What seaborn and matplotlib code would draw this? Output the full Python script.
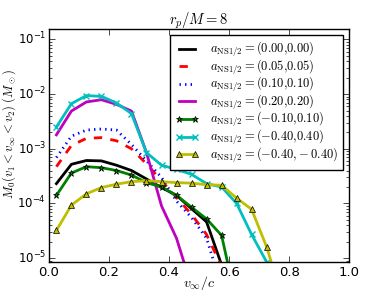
import numpy as np
import pandas as pd
import matplotlib
matplotlib.use("Agg")
import matplotlib.pyplot as plt
import seaborn as sns

plt.style.use("classic")
plt.rcParams.update({
    "figure.facecolor": "white",
    "savefig.facecolor": "white",
    "font.size": 10,
    "mathtext.fontset": "cm",
    "font.family": ["DejaVu Sans"],
})

v_inf = [0.025, 0.075, 0.125, 0.175, 0.225, 0.275, 0.325, 0.375,
         0.425, 0.475, 0.525, 0.575, 0.625, 0.675, 0.725, 0.775]

m_000_000 = [2.3e-4, 5.2e-4, 6.1e-4, 6.0e-4, 5.0e-4, 4.0e-4, 2.8e-4, 1.95e-4,
             1.4e-4, 8.0e-5, 4.6e-5, 7.5e-6]
m_005_005 = [4.7e-4, 1.15e-3, 1.55e-3, 1.6e-3, 1.4e-3, 1.0e-3, 5.3e-4, 2.6e-4,
             1.28e-4, 6.3e-5, 2.7e-5, 7.0e-6]
m_010_010 = [6.9e-4, 1.7e-3, 2.2e-3, 2.3e-3, 2.2e-3, 1.2e-3, 6.0e-4, 3.0e-4,
             1.1e-4, 5.5e-5, 2.3e-5, 3.0e-6]
m_020_020 = [1.8e-3, 4.9e-3, 7.2e-3, 7.9e-3, 6.5e-3, 4.9e-3, 8.5e-4, 9.0e-5,
             2.3e-5, 3.0e-6]
m_m010_010 = [1.4e-4, 3.6e-4, 4.7e-4, 4.5e-4, 4.0e-4, 3.3e-4, 2.4e-4, 2.0e-4,
              1.4e-4, 8.5e-5, 5.2e-5, 2.6e-5, 1.5e-6]
m_m040_040 = [2.5e-3, 6.7e-3, 9.4e-3, 9.1e-3, 6.9e-3, 4.4e-3, 8.5e-4, 5.0e-4,
              4.2e-4, 3.4e-4, 2.3e-4, 2.0e-4, 1.0e-4, 2.7e-5, 8.5e-6, 1.0e-6]
m_m040_m040 = [3.2e-5, 9.3e-5, 1.5e-4, 1.95e-4, 2.25e-4, 2.5e-4, 2.6e-4, 2.5e-4,
               2.4e-4, 2.35e-4, 2.2e-4, 2.15e-4, 1.25e-4, 7.8e-5, 1.6e-5, 2.0e-6]

labels = [
    r"$a_{\rm NS1/2}=(0.00{,}0.00)$",
    r"$a_{\rm NS1/2}=(0.05{,}0.05)$",
    r"$a_{\rm NS1/2}=(0.10{,}0.10)$",
    r"$a_{\rm NS1/2}=(0.20{,}0.20)$",
    r"$a_{\rm NS1/2}=(-0.10{,}0.10)$",
    r"$a_{\rm NS1/2}=(-0.40{,}0.40)$",
    r"$a_{\rm NS1/2}=(-0.40{,}-0.40)$",
]
series = [m_000_000, m_005_005, m_010_010, m_020_020, m_m010_010, m_m040_040, m_m040_m040]

colors = ["k", "r", "b", "m", "g", "c", "y"]
styles = ["-", "--", ":", "-", "-", "-", "-"]
markers = [None, None, None, None, "*", "x", "^"]

fig, ax = plt.subplots(figsize=(3.88, 2.91), dpi=100)
fig.subplots_adjust(left=0.126, right=0.9, bottom=0.1, top=0.9)

for vals, lab, c, ls, mk in zip(series, labels, colors, styles, markers):
    df = pd.DataFrame({"v": v_inf[:len(vals)], "m": vals})
    kw = dict(color=c, linestyle=ls, lw=2, label=lab)
    if mk is not None:
        kw.update(marker=mk, ms=5 if mk != "x" else 4,
                  mec=("k" if mk != "x" else c), mew=0.5 if mk != "x" else 1)
    sns.lineplot(data=df, x="v", y="m", ax=ax, estimator=None, sort=False, **kw)

ax.set_yscale("log")
ax.set_xlim(0, 1)
ax.set_ylim(8.5e-6, 0.155)
ax.set_xticks([0.0, 0.2, 0.4, 0.6, 0.8, 1.0])
ax.tick_params(axis="x", labelsize=9.5, pad=3)
ax.tick_params(axis="y", labelsize=8.5, pad=2)
ax.set_xlabel(r"$v_\infty/c$", fontsize=10, labelpad=-4)
ax.set_ylabel(r"$M_0(v_1<v_\infty<v_2)\ (M_\odot)$", fontsize=9)
ax.yaxis.set_label_coords(-0.102, 0.55)
ax.set_title(r"$r_p/M=8$", fontsize=10.5, pad=3)
leg = ax.legend(loc="upper right", fontsize=9, numpoints=2, frameon=True,
                labelspacing=-0.12, borderpad=0.4, handlelength=1.85,
                handletextpad=0.9, borderaxespad=0.5)
leg.get_frame().set_edgecolor("k")

fig.savefig("out.png", dpi=100)
